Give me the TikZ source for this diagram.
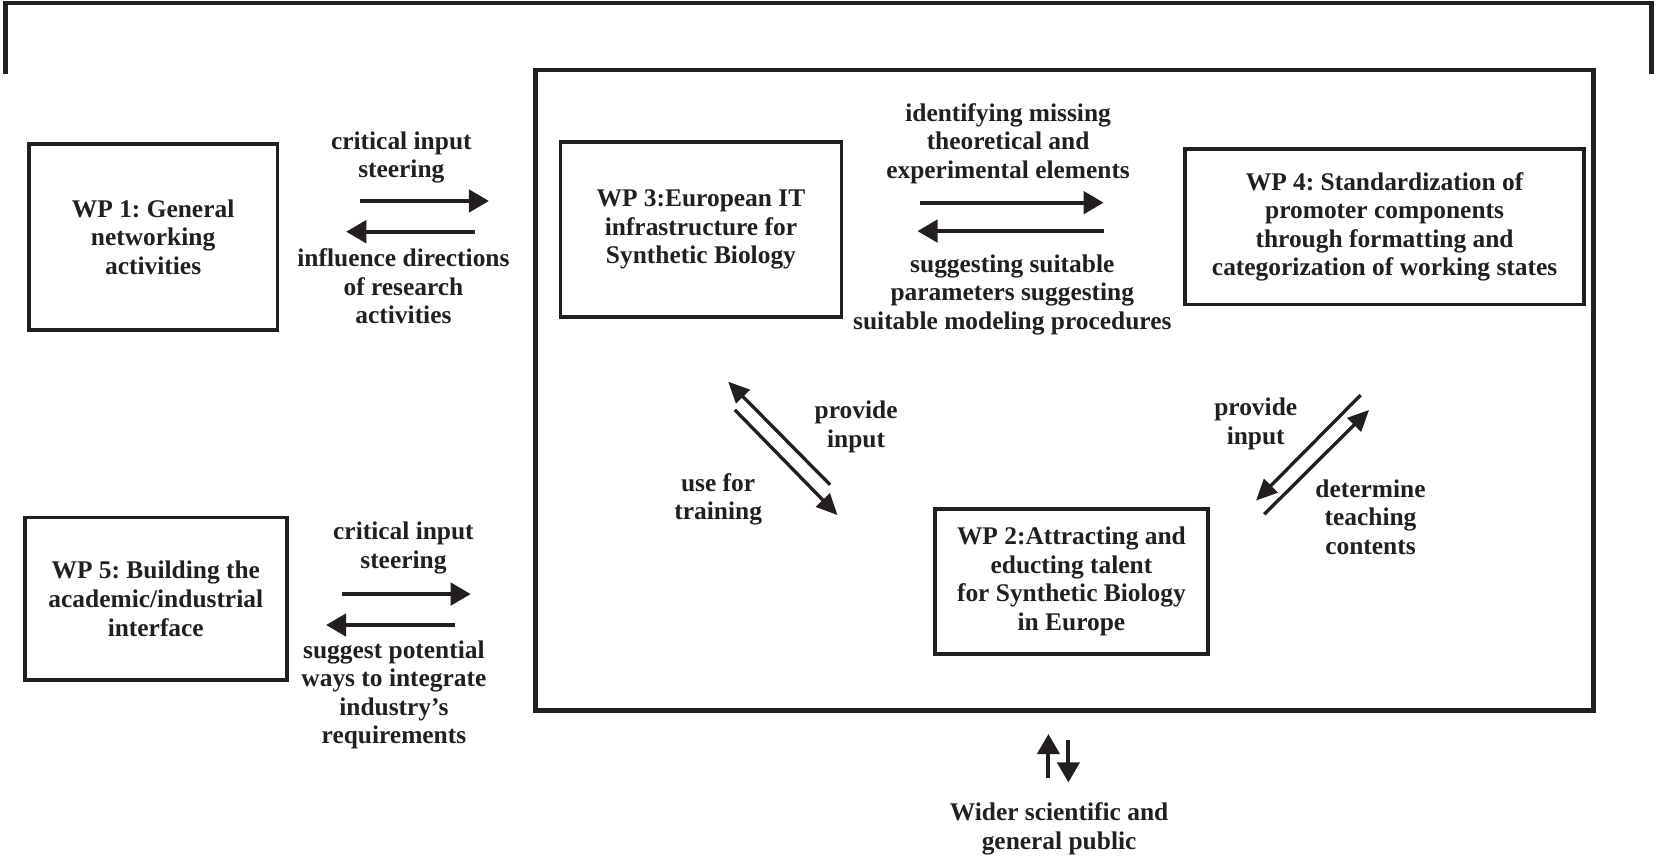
\documentclass[tikz,border=0pt]{standalone}
\usepackage{fontspec}
\setmainfont{Liberation Serif}
\usetikzlibrary{arrows.meta}
\definecolor{ink}{RGB}{35,31,32}
\newcommand\lblfont{\fontsize{13.7}{15.4}\selectfont\bfseries}
\frenchspacing
\begin{document}
\begin{tikzpicture}[x=0.02cm,y=-0.02cm,
  wpbox/.style={draw=ink,line width=2pt,align=center,inner sep=0pt,font=\lblfont,text=ink},
  lbl/.style={align=center,font=\lblfont,inner sep=0pt,text=ink},
  arr/.style={draw=ink,line width=2.3pt,-{Triangle[length=0.38cm,width=0.42cm]},color=ink},
  darr/.style={draw=ink,line width=1.8pt,-{Triangle[length=0.40cm,width=0.36cm]},color=ink},
  frame/.style={draw=ink,line width=2.4pt}]
\useasboundingbox (0,0) rectangle (1568,811);

% top bracket
\draw[frame,line width=2.5pt] (5.5,70) -- (5.5,3) -- (1564,3) -- (1564,70);
% big box
\node[frame,minimum width=20.04cm,minimum height=12.14cm,inner sep=0pt] (big) at (1008,369.5) {};

% work packages
\node[wpbox,minimum width=4.71cm,minimum height=3.52cm] (wp1) at (145,224.5) {WP 1: General\\networking\\activities};
\node[wpbox,minimum width=5.32cm,minimum height=3.32cm] (wp3) at (663.7,217.3) {WP 3:European IT\\infrastructure for\\Synthetic Biology};
\node[wpbox,minimum width=7.56cm,minimum height=2.94cm] (wp4) at (1311,214.8) {WP 4: Standardization of\\promoter components\\through formatting and\\categorization of working states};
\node[wpbox,minimum width=4.96cm,minimum height=3.08cm] (wp5) at (147.5,567) {WP 5: Building the\\academic/industrial\\interface};
\node[wpbox,minimum width=5.18cm,minimum height=2.74cm] (wp2) at (1014.5,550.5) {WP 2:Attracting and\\educting talent\\for Synthetic Biology\\in Europe};

% WP1 <-> centre
\coordinate (a1s) at (340.6,190.3); \coordinate (a1e) at (463,190.3);
\coordinate (a2s) at (449.3,219.4); \coordinate (a2e) at (327.8,219.4);
\draw[arr] (a1s) -- (a1e);
\draw[arr] (a2s) -- (a2e);
\node[lbl] (l1a) at (380,149) {critical input\\steering};
\node[lbl] (l1b) at (382,271) {influence directions\\of research\\activities};

% WP3 <-> WP4
\coordinate (b1s) at (870.8,191.9); \coordinate (b1e) at (1045,191.9);
\coordinate (b2s) at (1045,218.8); \coordinate (b2e) at (868.7,218.8);
\draw[arr] (b1s) -- (b1e);
\draw[arr] (b2s) -- (b2e);
\node[lbl] (l3a) at (954.5,136) {identifying missing\\theoretical and\\experimental elements};
\node[lbl] (l3b) at (958.5,279) {suggesting suitable\\parameters suggesting\\suitable modeling procedures};

% WP5 <-> centre
\coordinate (c1s) at (323.6,562.5); \coordinate (c1e) at (445.7,562.5);
\coordinate (c2s) at (430.5,591.8); \coordinate (c2e) at (308.7,591.8);
\draw[arr] (c1s) -- (c1e);
\draw[arr] (c2s) -- (c2e);
\node[lbl] (l5a) at (382,519) {critical input\\steering};
\node[lbl] (l5b) at (373,658) {suggest potential\\ways to integrate\\industry’s\\requirements};

% WP3 <-> WP2 diagonal
\coordinate (d1s) at (786,459); \coordinate (d1e) at (689.5,361.4);
\coordinate (d2s) at (695.7,388); \coordinate (d2e) at (793,487.7);
\draw[darr] (d1s) -- (d1e);
\draw[darr] (d2s) -- (d2e);
\node[lbl] (ld1) at (810.6,404) {provide\\input};
\node[lbl] (ld2) at (680,473) {use for\\training};

% WP4 <-> WP2 diagonal
\coordinate (e1s) at (1288.4,374); \coordinate (e1e) at (1189.3,474);
\coordinate (e2s) at (1197,487); \coordinate (e2e) at (1296.3,388.2);
\draw[darr] (e1s) -- (e1e);
\draw[darr] (e2s) -- (e2e);
\node[lbl] (le1) at (1189,401.5) {provide\\input};
\node[lbl] (le2) at (1297.7,489.5) {determine\\teaching\\contents};

% public
\coordinate (f1s) at (992.7,736.4); \coordinate (f1e) at (992.7,695);
\coordinate (f2s) at (1011.6,700.7); \coordinate (f2e) at (1011.6,740.8);
\draw[arr,line width=2.1pt] (f1s) -- (f1e);
\draw[arr,line width=2.1pt] (f2s) -- (f2e);
\node[lbl] (pub) at (1002.8,785) {Wider scientific and\\general public};
\end{tikzpicture}
\end{document}
